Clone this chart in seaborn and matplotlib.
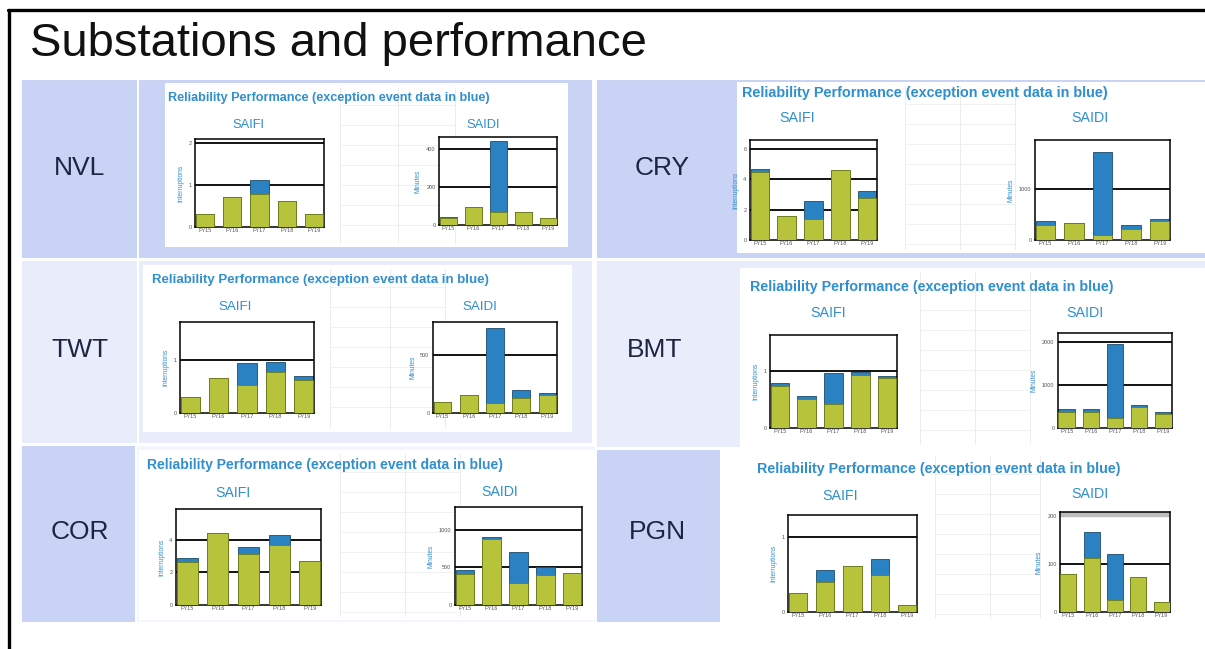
import matplotlib
matplotlib.use("Agg")
import matplotlib.pyplot as plt
from matplotlib.patches import Rectangle
import pandas as pd
import seaborn as sns

sns.set_theme(style="white")
plt.rcParams["font.family"] = ["Liberation Sans", "DejaVu Sans"]

W, H = 1205, 649

# ---- data ---------------------------------------------------------------
years = ["FY15", "FY16", "FY17", "FY18", "FY19"]
stations = ["NVL", "CRY", "TWT", "BMT", "COR", "PGN"]

nvl_saifi_base = [0.32, 0.72, 0.78, 0.62, 0.32]
nvl_saifi_exc = [0.0, 0.0, 0.34, 0.0, 0.0]
nvl_saidi_base = [38, 97, 71, 67, 35]
nvl_saidi_exc = [6, 0, 375, 0, 0]

cry_saifi_base = [4.5, 1.6, 1.4, 4.6, 2.75]
cry_saifi_exc = [0.2, 0.0, 1.2, 0.0, 0.5]
cry_saidi_base = [290, 335, 100, 210, 370]
cry_saidi_exc = [75, 0, 1610, 80, 30]

twt_saifi_base = [0.31, 0.66, 0.53, 0.77, 0.63]
twt_saifi_exc = [0.0, 0.0, 0.42, 0.20, 0.07]
twt_saidi_base = [95, 153, 87, 133, 153]
twt_saidi_exc = [0, 0, 650, 64, 20]

bmt_saifi_base = [0.74, 0.52, 0.43, 0.93, 0.89]
bmt_saifi_exc = [0.05, 0.05, 0.54, 0.05, 0.03]
bmt_saidi_base = [376, 376, 226, 489, 338]
bmt_saidi_exc = [75, 75, 1744, 37, 38]

cor_saifi_base = [2.61, 4.41, 3.14, 3.69, 2.67]
cor_saifi_exc = [0.27, 0.0, 0.41, 0.62, 0.0]
cor_saidi_base = [413, 876, 289, 400, 422]
cor_saidi_exc = [54, 26, 409, 102, 0]

pgn_saifi_base = [0.25, 0.40, 0.61, 0.50, 0.10]
pgn_saifi_exc = [0.0, 0.16, 0.0, 0.21, 0.0]
pgn_saidi_base = [80, 113, 26, 73, 20]
pgn_saidi_exc = [0, 54, 95, 0, 0]

# ---- styling ------------------------------------------------------------
LAV = "#c9d3f6"
LIGHT = "#e8ecfb"
GREEN = "#b7c33a"
GREEN_EDGE = "#6f7d16"
BLUE = "#2a82c2"
BLUE_EDGE = "#1d4d6b"
TXT_BLUE = "#2f8fcf"
NAVY = "#1d2540"

fig = plt.figure(figsize=(W / 100, H / 100), dpi=100)
bg = fig.add_axes([0, 0, 1, 1])
bg.set_xlim(0, W)
bg.set_ylim(H, 0)
bg.axis("off")


def rect(x0, y0, x1, y1, color, z=1):
    bg.add_patch(Rectangle((x0, y0), x1 - x0, y1 - y0, facecolor=color,
                           edgecolor="none", zorder=z))


def sheet_lines(x0, y0, x1, y1, xs):
    # faint spreadsheet cell lines behind the pasted charts
    for x in xs:
        bg.plot([x, x], [y0 + 4, y1 - 4], color="#ececec", lw=0.7, zorder=3)
    y = y0 + 22
    while y < y1 - 6:
        bg.plot([xs[0], xs[-1]], [y, y], color="#efefef", lw=0.6, zorder=3)
        y += 20


# slide frame
bg.plot([8, W], [10, 10], color="black", lw=2.4, zorder=10)
bg.plot([9, 9], [10, H], color="black", lw=2.4, zorder=10)
bg.text(30, 56, "Substations and performance", fontsize=34, color="#111111",
        va="baseline", ha="left")

# table cells (left group)
rect(22, 80, 137, 258, LAV)
rect(139, 80, 592, 258, LAV)
rect(165, 83, 568, 247, "white", 2)
rect(22, 261, 137, 443, LIGHT)
rect(139, 261, 592, 443, LIGHT)
rect(143, 265, 572, 432, "white", 2)
rect(22, 446, 135, 622, LAV)
rect(137, 446, 595, 622, "#f4f6fd")
rect(139, 450, 595, 620, "white", 2)

# table cells (right group)
rect(597, 80, 737, 258, LAV)
rect(737, 80, 1205, 258, LAV)
rect(737, 82, 1205, 253, "white", 2)
rect(597, 261, 740, 447, LIGHT)
rect(740, 261, 1205, 268, LIGHT)
rect(740, 268, 1205, 447, "white", 2)
rect(597, 450, 720, 622, LAV)
rect(720, 452, 1205, 622, "white", 2)

sheet_lines(165, 83, 568, 247, [340, 398, 455])
sheet_lines(143, 265, 572, 432, [330, 390, 445])
sheet_lines(139, 450, 595, 620, [340, 405, 460])
sheet_lines(737, 82, 1205, 253, [905, 960, 1015])
sheet_lines(740, 268, 1205, 447, [920, 975, 1030])
sheet_lines(720, 452, 1205, 622, [935, 990, 1040])

# station labels
label_pos = {"NVL": (80, 168), "CRY": (662, 168), "TWT": (80, 350),
             "BMT": (655, 350), "COR": (80, 532), "PGN": (657, 532)}
for name in stations:
    x, y = label_pos[name]
    bg.text(x, y, name, fontsize=19, color=NAVY, ha="center", va="center",
            zorder=5)

# panel headings: heading x, heading y, heading size, title size,
#                 SAIFI title xy, SAIDI title xy
headings = {
    "NVL": (168, 98, 9.1, 9.3, (248, 125), (483, 125)),
    "CRY": (742, 93, 10.4, 10.3, (797, 118), (1090, 118)),
    "TWT": (152, 280, 9.5, 9.6, (235, 307), (480, 307)),
    "BMT": (750, 287, 10.3, 10.3, (828, 313), (1085, 313)),
    "COR": (147, 465, 10.1, 10.2, (233, 493), (500, 492)),
    "PGN": (757, 469, 10.3, 10.3, (840, 496), (1090, 494)),
}
for name, (hx, hy, hs, ts, saifi_xy, saidi_xy) in headings.items():
    bg.text(hx, hy, "Reliability Performance (exception event data in blue)",
            fontsize=hs, fontweight="bold", color=TXT_BLUE, ha="left",
            va="center", zorder=5)
    bg.text(*saifi_xy, "SAIFI", fontsize=ts, color=TXT_BLUE,
            ha="center", va="center", zorder=5)
    bg.text(*saidi_xy, "SAIDI", fontsize=ts, color=TXT_BLUE,
            ha="center", va="center", zorder=5)


def px_axes(x0, y0, x1, y1):
    return fig.add_axes([x0 / W, 1 - y1 / H, (x1 - x0) / W, (y1 - y0) / H])


def stacked_chart(box, base, exc, top, ticks, ylabel, band=None):
    ax = px_axes(*box)
    df = pd.DataFrame({"year": years, "base": base,
                       "total": [b + e for b, e in zip(base, exc)]})
    for t in ticks[1:]:
        ax.axhline(t, color="black", lw=1.3, zorder=0)
    if band is not None:
        ax.axhspan(band[0], band[1], color="#bdbdbd", zorder=0)
    sns.barplot(data=df, x="year", y="total", order=years, color=BLUE,
                saturation=1, width=0.68, edgecolor=BLUE_EDGE, linewidth=0.6,
                ax=ax, zorder=2)
    sns.barplot(data=df, x="year", y="base", order=years, color=GREEN,
                saturation=1, width=0.68, edgecolor=GREEN_EDGE, linewidth=0.6,
                ax=ax, zorder=3)
    ax.set_xlim(-0.36, 4.36)
    ax.set_ylim(0, top)
    ax.set_yticks(ticks)
    ax.set_yticklabels([f"{t:g}" for t in ticks])
    ax.set_xlabel("")
    ax.set_ylabel(ylabel, fontsize=4.8, color=TXT_BLUE, labelpad=3)
    ax.tick_params(axis="both", labelsize=4, colors="#555555", length=1.5,
                   width=0.5, pad=1)
    ax.tick_params(axis="x", length=0)
    for s in ax.spines.values():
        s.set_color("black")
        s.set_linewidth(1.1)
        s.set_visible(True)
    ax.set_facecolor("white")
    return ax


# NVL
stacked_chart((195, 139, 324, 227), nvl_saifi_base, nvl_saifi_exc, 2.1,
              [0, 1, 2], "Interruptions")
stacked_chart((439, 137, 557, 225), nvl_saidi_base, nvl_saidi_exc, 465,
              [0, 200, 400], "Minutes")
# CRY
stacked_chart((750, 140, 877, 240), cry_saifi_base, cry_saifi_exc, 6.6,
              [0, 2, 4, 6], "Interruptions")
stacked_chart((1035, 140, 1170, 240), cry_saidi_base, cry_saidi_exc, 1950,
              [0, 1000], "Minutes")
# TWT
stacked_chart((180, 322, 314, 413), twt_saifi_base, twt_saifi_exc, 1.72,
              [0, 1], "Interruptions")
stacked_chart((433, 322, 557, 413), twt_saidi_base, twt_saidi_exc, 790,
              [0, 500], "Minutes")
# BMT
stacked_chart((770, 335, 897, 428), bmt_saifi_base, bmt_saifi_exc, 1.64,
              [0, 1], "Interruptions")
stacked_chart((1058, 333, 1172, 428), bmt_saidi_base, bmt_saidi_exc, 2218,
              [0, 1000, 2000], "Minutes")
# COR
stacked_chart((176, 509, 321, 605), cor_saifi_base, cor_saifi_exc, 5.88,
              [0, 2, 4], "Interruptions")
stacked_chart((455, 507, 582, 605), cor_saidi_base, cor_saidi_exc, 1302,
              [0, 500, 1000], "Minutes")
# PGN
stacked_chart((788, 515, 917, 612), pgn_saifi_base, pgn_saifi_exc, 1.30,
              [0, 1], "Interruptions")
stacked_chart((1060, 512, 1170, 612), pgn_saidi_base, pgn_saidi_exc, 209,
              [0, 100, 200], "Minutes", band=(200, 209))

fig.savefig("out.png", dpi=100)
